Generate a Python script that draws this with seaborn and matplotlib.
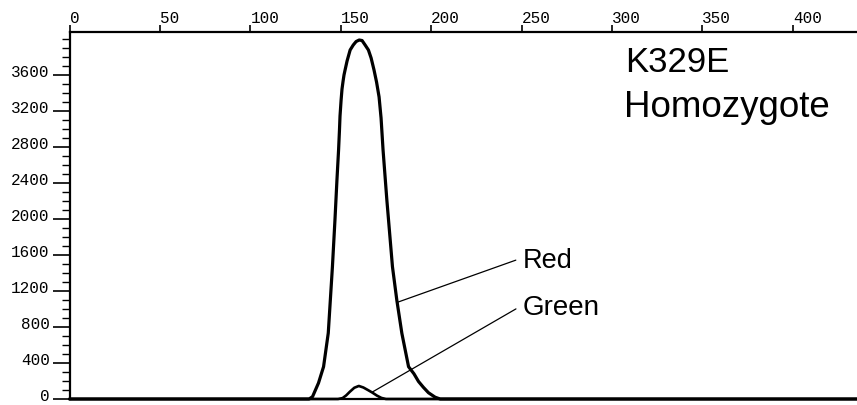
import numpy as np
import pandas as pd
import matplotlib
matplotlib.use("Agg")
import matplotlib.pyplot as plt
import matplotlib.transforms as mtransforms
import seaborn as sns
from matplotlib.ticker import MultipleLocator

# ---- data ----
red_x = [0, 131, 132.5, 134.4, 137.7, 140.5, 143.1, 145.4, 146.8, 147.9, 148.8,
         149.3, 149.6, 150.2, 150.7, 151.3, 151.8, 152.4, 153.5, 155.2, 156.9,
         158.5, 160.2, 161.8, 163.5, 165.3, 166.8, 168.4, 169.8, 171.2, 172.3,
         173.4, 175.5, 178.6, 181, 183.8, 187.5, 190.5, 193, 195.7, 198.5, 202.2,
         205, 435.5]
red_y = [0, 0, 0, 26, 178, 359, 733, 1470, 1989, 2433, 2767,
         2989, 3144, 3322, 3444, 3533, 3600, 3656, 3756, 3878, 3933,
         3972, 3989, 3983, 3933, 3878, 3789, 3656, 3522, 3356, 3122,
         2767, 2211, 1470, 1100, 730, 359, 280, 195, 130, 70, 20,
         0, 0]

green_x = [0, 148.5, 151, 153, 155, 157.5, 160, 162.5, 165, 167.4, 170, 172.5, 175, 435.5]
green_y = [0, 0, 10, 40, 80, 125, 145, 128, 100, 72, 38, 12, 0, 0]

x_ticks = [0, 50, 100, 150, 200, 250, 300, 350, 400]
y_ticks = [0, 400, 800, 1200, 1600, 2000, 2400, 2800, 3200, 3600]
title_lines = ["K329E", "Homozygote"]
series_labels = ["Red", "Green"]

# ---- style ----
sns.set_style("white")
plt.rcParams["font.family"] = ["Liberation Sans", "DejaVu Sans"]
plt.rcParams["text.color"] = "black"
plt.rcParams["xtick.color"] = "black"
plt.rcParams["ytick.color"] = "black"

fig = plt.figure(figsize=(8.57, 4.05), dpi=100)
ax = fig.add_axes([0.0811, 0.0148, 0.9189, 0.9062])

red_df = pd.DataFrame({"pos": red_x, "signal": red_y})
green_df = pd.DataFrame({"pos": green_x, "signal": green_y})
sns.lineplot(data=red_df, x="pos", y="signal", color="black", linewidth=2.3,
             estimator=None, ax=ax)
sns.lineplot(data=green_df, x="pos", y="signal", color="black", linewidth=1.9,
             estimator=None, ax=ax)
for ln in ax.lines:
    ln.set_clip_on(False)
    ln.set_solid_joinstyle("round")
    ln.set_solid_capstyle("round")

ax.set_xlim(0, 435.5)
ax.set_ylim(0, 4078)
ax.set_xlabel("")
ax.set_ylabel("")

for side in ["top", "left", "bottom"]:
    ax.spines[side].set_visible(True)
    ax.spines[side].set_color("black")
    ax.spines[side].set_linewidth(1.6)
ax.spines["right"].set_visible(False)

mono = "Liberation Mono"
ax.xaxis.tick_top()
ax.set_xticks(x_ticks)
ax.set_xticklabels([str(v) for v in x_ticks])
ax.tick_params(axis="x", which="major", direction="out", length=5, width=1.2,
               pad=-0.7, labelsize=11.5, top=True, bottom=False,
               labeltop=True, labelbottom=False, colors="black")
for lab in ax.get_xticklabels():
    lab.set_ha("left")
    lab.set_fontfamily(mono)

ax.set_yticks(y_ticks)
ax.set_yticklabels([str(v) for v in y_ticks])
ax.yaxis.set_minor_locator(MultipleLocator(100))
ax.tick_params(axis="y", which="major", direction="out", length=12.2, width=1.2,
               pad=2, labelsize=11.5, left=True, colors="black")
ax.tick_params(axis="y", which="minor", direction="out", length=5.5, width=1.0,
               left=True, colors="black")
shift_down = mtransforms.ScaledTranslation(0, -2.0 / 100, fig.dpi_scale_trans)
for lab in ax.get_yticklabels():
    lab.set_va("baseline")
    lab.set_fontfamily(mono)
    lab.set_transform(lab.get_transform() + shift_down)

# ---- annotations ----
ax.text(307.2, 3630, title_lines[0], fontsize=25, ha="left", va="baseline")
ax.text(306.6, 3137, title_lines[1], fontsize=26.5, ha="left", va="baseline")

red_anchor_x = 181.2
green_anchor_x = 167.2
ax.annotate(series_labels[0],
            xy=(red_anchor_x, np.interp(red_anchor_x, red_x, red_y)),
            xytext=(250.8, 1459), textcoords="data", fontsize=19.5,
            ha="left", va="baseline",
            arrowprops=dict(arrowstyle="-", color="black", lw=0.9,
                            shrinkA=3, shrinkB=0, relpos=(0, 0.62)))
ax.annotate(series_labels[1],
            xy=(green_anchor_x, np.interp(green_anchor_x, green_x, green_y)),
            xytext=(250.7, 933), textcoords="data", fontsize=20,
            ha="left", va="baseline",
            arrowprops=dict(arrowstyle="-", color="black", lw=0.9,
                            shrinkA=3, shrinkB=0, relpos=(0, 0.62)))

fig.savefig("out.png", dpi=100)
